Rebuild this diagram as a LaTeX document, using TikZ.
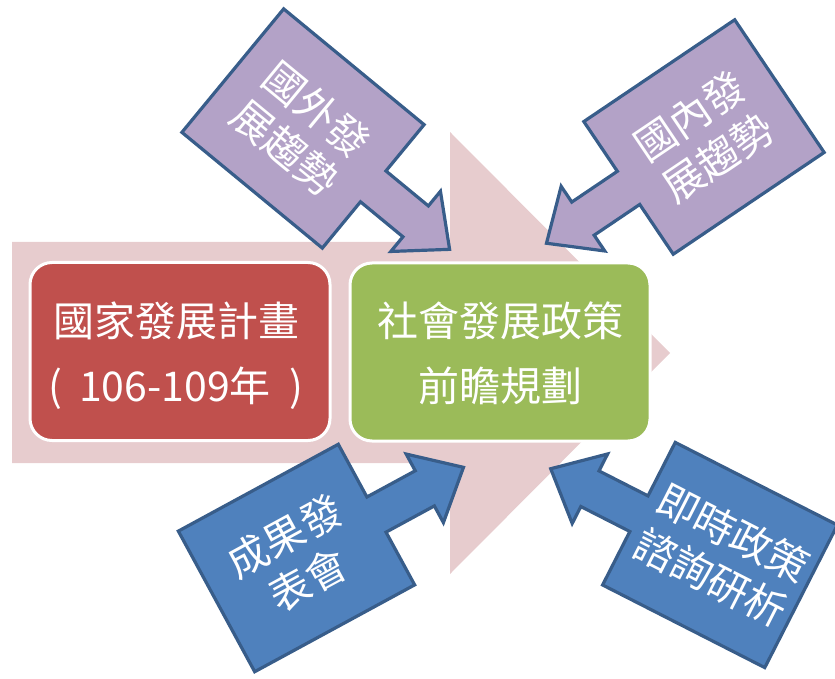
\documentclass[tikz,border=0pt]{standalone}
\usepackage{fontspec}
\setmainfont{Noto Sans CJK TC}
\definecolor{pinkbg}{RGB}{231,204,206}
\definecolor{redbox}{RGB}{192,80,77}
\definecolor{greenbox}{RGB}{155,187,89}
\definecolor{purplefill}{RGB}{179,162,199}
\definecolor{bluefill}{RGB}{79,129,189}
\definecolor{edgeblue}{RGB}{56,93,138}
\tikzset{
  mainbox/.style={draw=white, line width=3pt, rounded corners=22pt, minimum width=300pt, minimum height=178pt},
  maintext/.style={text=white, font=\fontsize{41}{65}\selectfont, align=center},
  callout/.style={draw=edgeblue, line width=3.2pt, line join=miter},
  calltext/.style={text=white, font=\fontsize{41}{50}\selectfont, align=center},
  calloutshape/.pic={
    \path[pic actions] (-91,-80) -- (91,-80) -- (91,-20) -- (146,-20) -- (146,-39) -- (190,0) -- (146,39) -- (146,20) -- (91,20) -- (91,80) -- (-91,80) -- cycle;
  }
}
\begin{document}
\begin{tikzpicture}[x=1pt,y=1pt]
\useasboundingbox (0,0) rectangle (835,678);
% big background arrow
\fill[pinkbg] (12,436) -- (450,436) -- (450,546) -- (670,325) -- (450,104) -- (450,215) -- (12,215) -- cycle;
% main boxes
\node[mainbox, fill=redbox] (plan) at (180,326.5) {};
\node[mainbox, fill=greenbox] (policy) at (500,326) {};
\node[maintext] (plantext) at (176,322) {國家發展計畫\\(\hspace{0.4em}106-109年\hspace{0.45em})};
\node[maintext] (policytext) at (500,325) {社會發展政策\\前瞻規劃};
% callouts
\pic[callout, fill=purplefill, rotate=-39.5] (c1) at (303,549.5) {calloutshape};
\node[calltext, rotate=-39.5] (t1) at (301,549.5) {國外發\\展趨勢};
\pic[callout, fill=purplefill, rotate=-146] (c2) at (704,541) {calloutshape};
\node[calltext, rotate=34] (t2) at (704,541) {國內發\\展趨勢};
\pic[callout, fill=bluefill, rotate=28.5] (c3) at (296.5,120) {calloutshape};
\node[calltext, rotate=28.5] (t3) at (296.5,120) {成果發\\表會};
\pic[callout, fill=bluefill, rotate=153] (c4) at (720,123) {calloutshape};
\node[calltext, rotate=-27] (t4) at (722,123) {即時政策\\諮詢研析};
\end{tikzpicture}
\end{document}
